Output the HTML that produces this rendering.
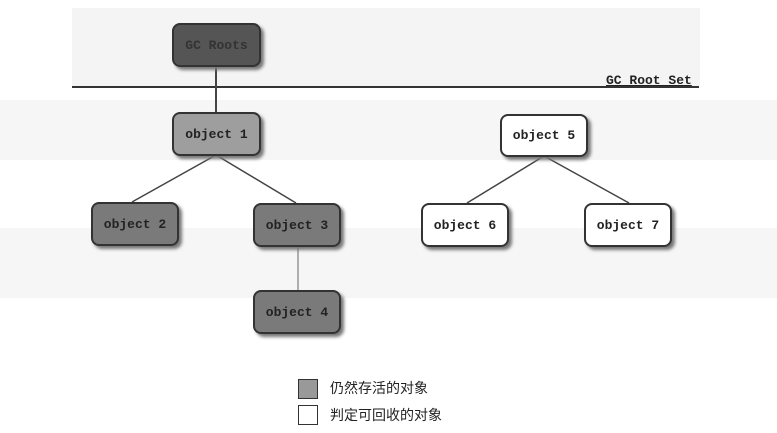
<!DOCTYPE html>
<html><head><meta charset="utf-8"><style>
body{margin:0;width:777px;height:433px;background:#fff;overflow:hidden;position:relative;font-family:"Liberation Mono",monospace}
.b{position:absolute;width:86px;height:42px;border:2px solid #333;border-radius:8px;box-sizing:border-box;display:flex;align-items:center;justify-content:center;font-size:13px;font-weight:bold;color:#222;box-shadow:3px 3px 3px #777}
.g{background:#9e9e9e}.d{background:#7a7a7a}.w{background:#fff}
.band{position:absolute;left:0;width:777px;background:#f6f6f6}
</style></head><body>
<div style="position:absolute;left:72px;top:8px;width:628px;height:78px;background:#f4f4f4"></div>
<div class="band" style="top:100px;height:60px"></div>
<div class="band" style="top:228px;height:70px"></div>
<svg width="777" height="433" style="position:absolute;left:0;top:0">
<line x1="72" y1="87" x2="699" y2="87" stroke="#333" stroke-width="2"/>
<line x1="216" y1="66" x2="216" y2="112" stroke="#444" stroke-width="2"/>
<line x1="216" y1="155" x2="132" y2="202" stroke="#444" stroke-width="1.5"/>
<line x1="216" y1="155" x2="296" y2="203" stroke="#444" stroke-width="1.5"/>
<line x1="298" y1="246" x2="298" y2="291" stroke="#666" stroke-width="1"/>
<line x1="544" y1="156" x2="467" y2="203" stroke="#444" stroke-width="1.5"/>
<line x1="544" y1="156" x2="629" y2="203" stroke="#444" stroke-width="1.5"/>
</svg>
<div style="position:absolute;left:606px;top:73px;font-size:13px;font-weight:bold;color:#222;text-decoration:underline">GC Root Set</div>
<div class="b" style="left:172px;top:23px;width:89px;height:44px;background:#555;color:#333">GC Roots</div>
<div class="b g" style="left:172px;top:112px;width:89px;height:44px">object 1</div>
<div class="b d" style="left:91px;top:202px;width:88px;height:44px">object 2</div>
<div class="b d" style="left:253px;top:203px;width:88px;height:44px">object 3</div>
<div class="b d" style="left:253px;top:290px;width:88px;height:44px">object 4</div>
<div class="b w" style="left:500px;top:114px;width:88px;height:43px">object 5</div>
<div class="b w" style="left:421px;top:203px;width:88px;height:44px">object 6</div>
<div class="b w" style="left:584px;top:203px;width:88px;height:44px">object 7</div>
<div style="position:absolute;left:298px;top:379px;width:18px;height:18px;border:1.5px solid #333;background:#999"></div>
<div style="position:absolute;left:298px;top:405px;width:18px;height:18px;border:1.5px solid #333;background:#fff"></div>
<div style="position:absolute;left:330px;top:378px;font-family:'Liberation Sans','Noto Sans CJK SC',sans-serif;font-size:14px;color:#222">仍然存活的对象</div>
<div style="position:absolute;left:330px;top:405px;font-family:'Liberation Sans','Noto Sans CJK SC',sans-serif;font-size:14px;color:#222">判定可回收的对象</div>
</body></html>
